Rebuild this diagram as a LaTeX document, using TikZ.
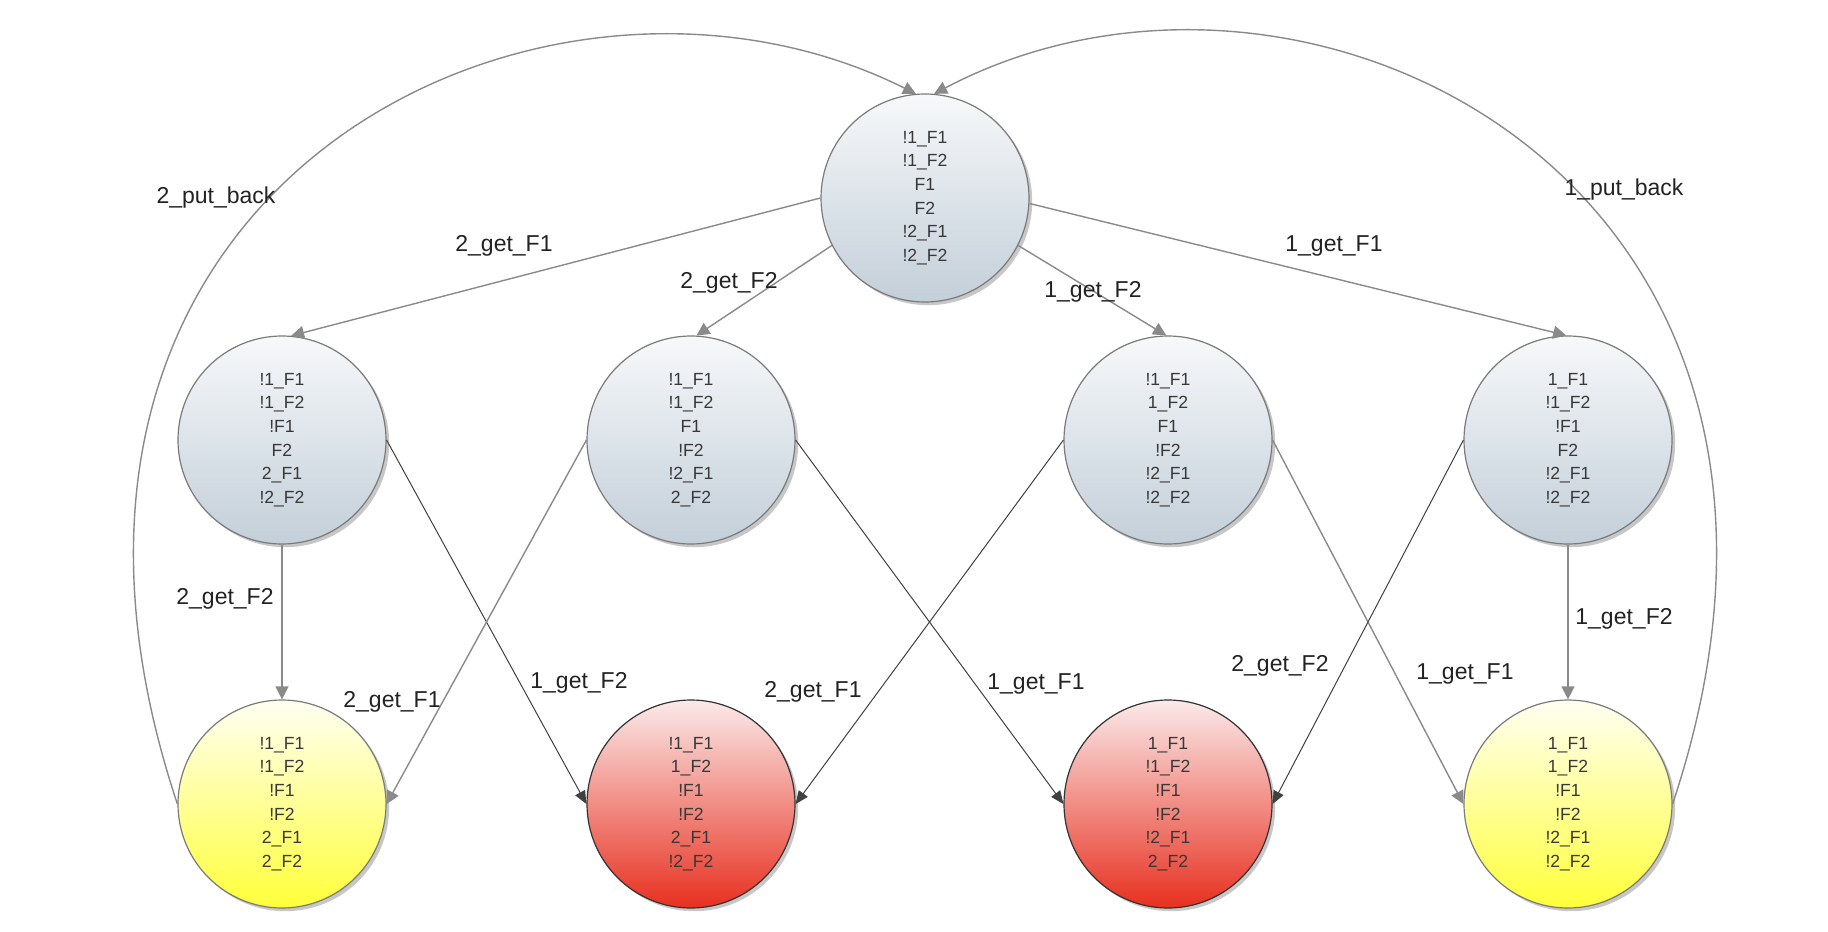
\documentclass[tikz,border=0pt]{standalone}
\usepackage{fontspec}
\setmainfont{Liberation Sans}
\usetikzlibrary{arrows.meta,shadows}
\definecolor{greytop}{HTML}{F7F8FA}
\definecolor{greybot}{HTML}{C3CFD9}
\definecolor{yeltop}{HTML}{FFFFF2}
\definecolor{yelbot}{HTML}{FFFF3A}
\definecolor{redtop}{HTML}{FBEAEA}
\definecolor{redbot}{HTML}{E7301F}
\definecolor{nodeborder}{HTML}{7A7A7A}
\definecolor{nodetext}{HTML}{383838}
\definecolor{linegray}{HTML}{8A8A8A}
\definecolor{labeltext}{HTML}{222222}
\tikzset{
  state/.style={circle, minimum size=104pt, inner sep=0pt, draw=nodeborder,
    line width=0.6pt, align=center, text=nodetext,
    font=\fontsize{8.8}{11.8}\selectfont,
    drop shadow={shadow xshift=1.6pt, shadow yshift=-1.6pt, opacity=0.22, fill=black}},
  greystate/.style={state, top color=greytop, bottom color=greybot},
  yelstate/.style={state, top color=yeltop, bottom color=yelbot},
  redstate/.style={state, top color=redtop, bottom color=redbot, draw=black!80},
  conn/.style={draw=linegray, line width=0.7pt, -{Triangle[length=6.5pt,width=6.5pt]}},
  redconn/.style={draw=black!75, line width=0.5pt, -{Triangle[length=6.5pt,width=5.5pt]}},
  lbl/.style={text=labeltext, font=\fontsize{11.5}{13}\selectfont, inner sep=1pt}
}
\begin{document}
\begin{tikzpicture}[x=0.5pt, y=-0.5pt]
\useasboundingbox (0,0) rectangle (1828,932);
% states
\node[greystate] (top) at (925,198) {!1\_F1\\!1\_F2\\F1\\F2\\!2\_F1\\!2\_F2};
\node[greystate] (m1) at (282,440) {!1\_F1\\!1\_F2\\!F1\\F2\\2\_F1\\!2\_F2};
\node[greystate] (m2) at (691,440) {!1\_F1\\!1\_F2\\F1\\!F2\\!2\_F1\\2\_F2};
\node[greystate] (m3) at (1168,440) {!1\_F1\\1\_F2\\F1\\!F2\\!2\_F1\\!2\_F2};
\node[greystate] (m4) at (1568,440) {1\_F1\\!1\_F2\\!F1\\F2\\!2\_F1\\!2\_F2};
\node[yelstate] (b1) at (282,804) {!1\_F1\\!1\_F2\\!F1\\!F2\\2\_F1\\2\_F2};
\node[redstate] (b2) at (691,804) {!1\_F1\\1\_F2\\!F1\\!F2\\2\_F1\\!2\_F2};
\node[redstate] (b3) at (1168,804) {1\_F1\\!1\_F2\\!F1\\!F2\\!2\_F1\\2\_F2};
\node[yelstate] (b4) at (1568,804) {1\_F1\\1\_F2\\!F1\\!F2\\!2\_F1\\!2\_F2};
% connectors from top
\draw[conn] (top.180) -- (m1.85);
\draw[conn] (top.207) -- (m2.87);
\draw[conn] (top.333) -- (m3.91);
\draw[conn] (top.357) -- (m4.91);
% middle to bottom
\draw[conn] (m1.south) -- (b1.north);
\draw[redconn] (m1.east) -- (b2.west);
\draw[conn] (m2.west) -- (b1.east);
\draw[redconn] (m2.east) -- (b3.west);
\draw[redconn] (m3.west) -- (b2.east);
\draw[conn] (m3.east) -- (b4.west);
\draw[redconn] (m4.west) -- (b3.east);
\draw[conn] (m4.south) -- (b4.north);
% put back arcs
\draw[conn] (b1.west) .. controls (-30,182) and (544,-92) .. (top.95);
\draw[conn] (b4.east) .. controls (1880,182) and (1306,-102) .. (top.85);
% labels
\node[lbl] (l1) at (216,198) {2\_put\_back};
\node[lbl] (l2) at (1624,190) {1\_put\_back};
\node[lbl] (l3) at (504,246) {2\_get\_F1};
\node[lbl] (l4) at (729,283) {2\_get\_F2};
\node[lbl] (l5) at (1093,292) {1\_get\_F2};
\node[lbl] (l6) at (1334,246) {1\_get\_F1};
\node[lbl] (l7) at (225,599) {2\_get\_F2};
\node[lbl] (l8) at (579,683) {1\_get\_F2};
\node[lbl] (l9) at (392,702) {2\_get\_F1};
\node[lbl] (l10) at (1036,684) {1\_get\_F1};
\node[lbl] (l11) at (813,692) {2\_get\_F1};
\node[lbl] (l12) at (1465,674) {1\_get\_F1};
\node[lbl] (l13) at (1280,666) {2\_get\_F2};
\node[lbl] (l14) at (1624,619) {1\_get\_F2};
\end{tikzpicture}
\end{document}
